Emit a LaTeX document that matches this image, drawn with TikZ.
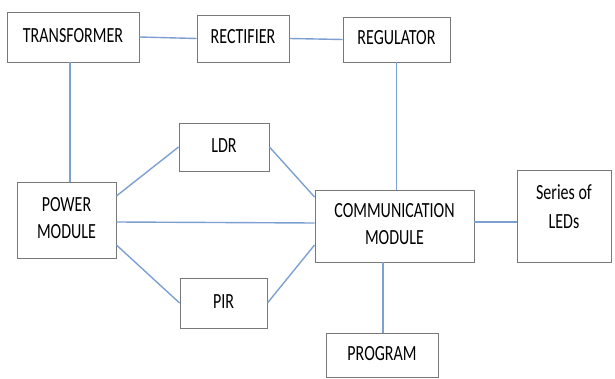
\documentclass[tikz,border=0pt]{standalone}
\usepackage{fontspec}
\setmainfont{Carlito}
\usepackage{graphicx}
\newcommand\bxtext[1]{\scalebox{1}[1.35]{\begin{tabular}{@{}c@{}}#1\end{tabular}}}
\definecolor{linkblue}{RGB}{125,160,210}
\definecolor{boxgray}{RGB}{120,120,120}
\begin{document}
\begin{tikzpicture}[x=1pt,y=-1pt,
  blk/.style={draw=boxgray,line width=0.9pt,fill=white,inner sep=0pt,font=\fontsize{16}{20}\selectfont},
  lnk/.style={draw=linkblue,line width=1.4pt}]
\useasboundingbox (0,0) rectangle (615,379);
\node[blk,minimum width=132pt,minimum height=50pt] (tr) at (73,37) {\bxtext{TRANSFORMER}};
\node[blk,minimum width=92pt,minimum height=47pt] (rec) at (243,38.5) {\bxtext{RECTIFIER}};
\node[blk,minimum width=107pt,minimum height=45pt] (reg) at (396.5,39.5) {\bxtext{REGULATOR}};
\node[blk,minimum width=90pt,minimum height=48pt] (ldr) at (224,147) {\bxtext{LDR}};
\node[blk,minimum width=99pt,minimum height=76pt] (pm) at (66.5,220) {\bxtext{POWER\\MODULE}};
\node[blk,minimum width=87pt,minimum height=50pt] (pir) at (223.5,303) {\bxtext{PIR}};
\node[blk,minimum width=159pt,minimum height=72pt] (comm) at (394.5,226) {\bxtext{COMMUNICATION\\MODULE}};
\node[blk,minimum width=94pt,minimum height=92pt] (leds) at (564,216) {};
\node[inner sep=0pt,font=\fontsize{16}{21.5}\selectfont] (ledtxt) at (564,208) {\bxtext{Series of\\LEDs}};
\node[blk,minimum width=112pt,minimum height=44pt] (prog) at (382,355) {\bxtext{PROGRAM}};
\draw[lnk] (tr.east) -- (rec.west);
\draw[lnk] (rec.east) -- (reg.west);
\draw[lnk] ([xshift=3.5pt]pm.north) -- ([xshift=3.5pt]pm.north |- tr.south);
\draw[lnk] (reg.south) -- (reg.south |- comm.north);
\draw[lnk] ([yshift=24pt]pm.east) -- (ldr.west);
\draw[lnk] (ldr.east) -- ([yshift=29pt]comm.west);
\draw[lnk] ([yshift=-2pt]pm.east) -- ([yshift=3pt]comm.west);
\draw[lnk] ([yshift=-25pt]pm.east) -- (pir.west);
\draw[lnk] (pir.east) -- ([yshift=-19pt]comm.west);
\draw[lnk] ([yshift=4pt]comm.east) -- ([yshift=4pt]comm.east -| leds.west);
\draw[lnk] ([xshift=-11.5pt]comm.south) -- ([xshift=-11.5pt]comm.south |- prog.north);
\end{tikzpicture}
\end{document}
